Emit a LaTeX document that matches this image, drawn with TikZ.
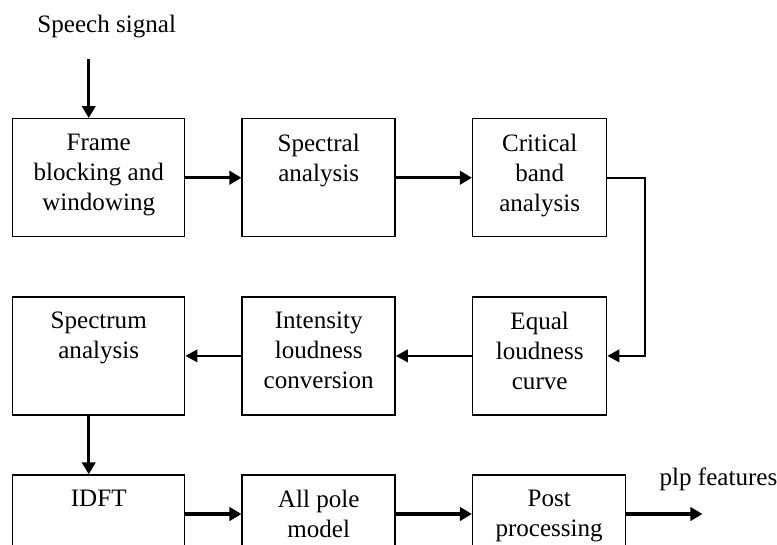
\documentclass[tikz,border=0pt]{standalone}
\usepackage{fontspec}
\setmainfont{Liberation Serif}
\usetikzlibrary{arrows.meta,positioning}

\begin{document}
\begin{tikzpicture}[font=\fontsize{18.8}{22.5}\selectfont, node distance=44pt and 42pt,
 box/.style={draw,line width=1.1pt,inner sep=0pt,minimum height=88.5pt},
 txt/.style={anchor=north,align=center,inner xsep=0pt,inner ysep=11.5pt},
 arr/.style={-{Triangle[length=9pt,width=10pt]},line width=2.4pt},
 feed/.style={-{Triangle[length=9pt,width=9.5pt]},line width=1.5pt}]
\useasboundingbox (0,0) rectangle (582.75pt,-408pt);
% first row
\node[box,minimum width=129pt,anchor=north west,label={[txt]north:{Frame\\blocking and\\windowing}}] (frame) at (9pt,-88.5pt) {};
\node[box,minimum width=114.75pt,right=of frame,label={[txt]north:{Spectral\\analysis}}] (spec) {};
\node[box,minimum width=100.5pt,right=57pt of spec,label={[txt]north:{Critical\\band\\analysis}}] (crit) {};
% second row
\node[box,minimum width=129pt,below=of frame,label={[txt]north:{Spectrum\\analysis}}] (spectrum) {};
\node[box,minimum width=114.75pt,below=of spec,label={[txt]north:{Intensity\\loudness\\conversion}}] (intens) {};
\node[box,minimum width=100.5pt,below=of crit,label={[txt]north:{Equal\\loudness\\curve}}] (equal) {};
% third row
\node[box,minimum width=129pt,minimum height=58.5pt,below=of spectrum,label={[txt]north:IDFT}] (idft) {};
\node[box,minimum width=114.75pt,minimum height=58.5pt,below=of intens,label={[txt]north:{All pole\\model}}] (pole) {};
\node[box,minimum width=114.75pt,minimum height=58.5pt,right=57pt of pole,label={[txt]north:{Post\\processing}}] (post) {};
% in and out
\node[inner sep=0pt] (speech) at ([xshift=6pt,yshift=68.25pt]frame.north) {Speech signal};
\coordinate (in) at ([xshift=-7.5pt,yshift=44pt]frame.north);
\coordinate[right=57pt of post] (out);
\node[inner sep=0pt,anchor=west] (plp) at ([xshift=24.75pt,yshift=26.25pt]post.east) {plp features};
\draw[arr] (in) -- (in |- frame.north); \draw[arr] (frame) -- (spec); \draw[arr] (spec) -- (crit);
\draw[feed] (crit.east) -- ++(28.5pt,0) |- (equal.east); \draw[feed] (equal) -- (intens); \draw[feed] (intens) -- (spectrum);
\draw[arr] ([xshift=-7.5pt]spectrum.south) -- ([xshift=-7.5pt]idft.north);
\draw[arr] (idft) -- (pole); \draw[arr] (pole) -- (post); \draw[arr] (post) -- (out);
\end{tikzpicture}
\end{document}
